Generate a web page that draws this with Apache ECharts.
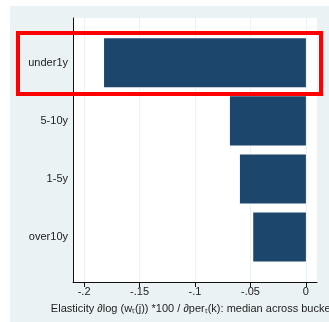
<!DOCTYPE html>
<html>
<head>
<meta charset="utf-8">
<script src="https://cdn.jsdelivr.net/npm/echarts@6/dist/echarts.min.js"></script>
<style>
  html, body { margin: 0; padding: 0; background: #fff; }
  #chart { width: 329px; height: 322px; }
</style>
</head>
<body>
<div id="chart"></div>
<script>
// data
const categories = ["under1y", "5-10y", "1-5y", "over10y"];
const elasticity = [-0.182, -0.0685, -0.0595, -0.0475];
const tickValues = [-0.2, -0.15, -0.1, -0.05, 0];
const tickLabels = ["-.2", "-.15", "-.1", "-.05", "0"];
const axisTitle = "Elasticity \u2202log (w\u209c(j)) *100 / \u2202per\u209c(k): median across buckets";

const font = "'Liberation Sans', Arial, sans-serif";
const xMin = -0.21, xMax = 0.01;

const myChart = echarts.init(document.getElementById("chart"), null, { renderer: "canvas" });

const option = {
  animation: false,
  backgroundColor: "#fff",
  textStyle: { fontFamily: font },
  graphic: [
    {
      type: "rect", z: -10, silent: true,
      shape: { x: 10, y: 6, width: 319, height: 316 },
      style: { fill: "#eaf2f3" }
    },
    {
      type: "rect", z: 100, silent: true,
      shape: { x: 18, y: 33, width: 303, height: 61 },
      style: { fill: "none", stroke: "#ff0000", lineWidth: 4 }
    }
  ],
  grid: [
    { left: 73, top: 18, width: 244, height: 264, show: true, backgroundColor: "#fff", borderWidth: 0,
      containLabel: false, outerBoundsMode: "none" },
    { left: 73, top: 33.8, width: 244, height: 232.2, containLabel: false, outerBoundsMode: "none" }
  ],
  xAxis: [
    {
      gridIndex: 0, type: "value", min: xMin, max: xMax,
      name: axisTitle, nameLocation: "middle", nameGap: 21,
      nameTextStyle: { fontSize: 11, color: "#222", fontFamily: font },
      axisLine: { show: true, onZero: false, lineStyle: { color: "#111", width: 1 } },
      axisTick: { show: true, length: 5, customValues: tickValues, lineStyle: { color: "#111" } },
      axisLabel: {
        show: true, fontSize: 11, color: "#222", margin: 4,
        customValues: tickValues,
        formatter: v => tickLabels[tickValues.findIndex(t => Math.abs(t - v) < 1e-9)]
      },
      splitLine: { show: true, lineStyle: { color: "#edf3f4", width: 1 } }
    },
    {
      gridIndex: 1, type: "value", min: xMin, max: xMax, show: false
    }
  ],
  yAxis: [
    {
      gridIndex: 0, type: "value", min: 0, max: 1,
      axisLine: { show: true, onZero: false, lineStyle: { color: "#111", width: 1 } },
      axisTick: { show: false }, axisLabel: { show: false }, splitLine: { show: false }
    },
    {
      gridIndex: 1, type: "category", data: categories, inverse: true,
      axisLine: { show: false }, axisTick: { show: false }, splitLine: { show: false },
      axisLabel: { fontSize: 11, color: "#222", margin: 5, fontFamily: font }
    }
  ],
  series: [
    {
      type: "bar", xAxisIndex: 1, yAxisIndex: 1,
      data: elasticity,
      barCategoryGap: "15.5%",
      itemStyle: { color: "#1d466c" }
    }
  ]
};
myChart.setOption(option);
</script>
</body>
</html>
